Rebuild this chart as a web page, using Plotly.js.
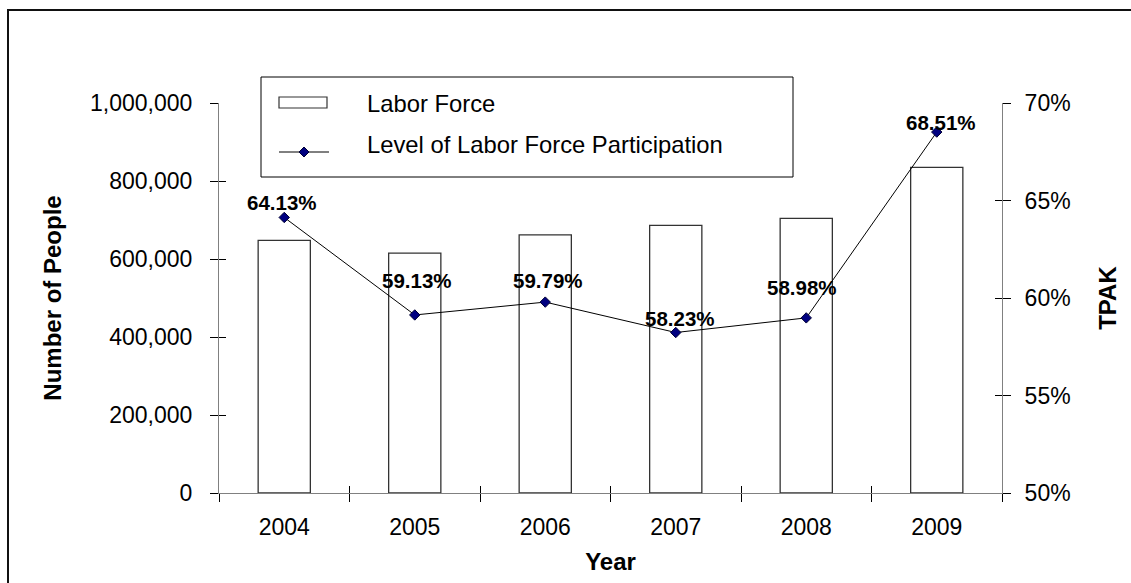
<!DOCTYPE html>
<html>
<head>
<meta charset="utf-8">
<script src="https://cdn.plot.ly/plotly-3.0.1.min.js"></script>
<style>
  html, body { margin: 0; padding: 0; background: #ffffff; overflow: hidden; }
  #wrap { position: relative; width: 1131px; height: 583px; }
  #chart { position: absolute; left: 0; top: 0; width: 1131px; height: 583px; }
  #frame { position: absolute; left: 7px; top: 9px; width: 1400px; height: 800px;
           border-left: 2px solid #111; border-top: 2px solid #111; pointer-events: none; }
</style>
</head>
<body>
<div id="wrap">
  <div id="chart"></div>
  <div id="frame"></div>
</div>
<script>
// Labor force by year and the participation rate (TPAK)
const years = ['2004', '2005', '2006', '2007', '2008', '2009'];
const laborForce = [648000, 615000, 662000, 686000, 704000, 835000];
const participation = [64.13, 59.13, 59.79, 58.23, 58.98, 68.51];

const barName = 'Labor Force';
const lineName = 'Level of Labor Force Participation';

// label offsets (px) above / beside each rate marker
const labelDy = [15, 34, 22, 14, 30, 10];
const labelDx = [-2, 2, 3, 4, -4, 4];

const FONT = 'Arial, "Liberation Sans", sans-serif';
const AXIS = '#808080';
const TICK_SIZE = 23, TITLE_SIZE = 24, LEGEND_SIZE = 23.8, LABEL_SIZE = 20.5;

const rateFrac = participation.map(v => v / 100);
const blank = years.map(() => null);

const traces = [
  {
    type: 'bar', name: barName, x: years, y: laborForce,
    marker: { color: '#ffffff', line: { color: '#333333', width: 1.3 } },
    width: 0.4, hoverinfo: 'x+y'
  },
  {
    type: 'scatter', mode: 'lines+markers', name: lineName,
    x: years, y: rateFrac, yaxis: 'y2',
    line: { color: '#000000', width: 1 },
    marker: { symbol: 'diamond', size: 8, color: '#000080', line: { color: '#000033', width: 1 } }
  },
  // empty carriers so the tick-only overlay axes get drawn
  { type: 'scatter', mode: 'lines', x: years, y: blank, xaxis: 'x2', yaxis: 'y3', hoverinfo: 'skip', showlegend: false },
  { type: 'scatter', mode: 'lines', x: years, y: blank, xaxis: 'x2', yaxis: 'y4', hoverinfo: 'skip', showlegend: false }
];

// Px -> paper helpers for the hand-built legend box
const L = 219, R = 129, T = 103, B = 90, W = 1131, H = 583;
const pw = W - L - R, ph = H - T - B;
const px = v => (v - L) / pw;
const py = v => (H - B - v) / ph;

// value labels: category axes take the category index as x
const annotations = years.map((yr, i) => ({
  x: i, y: rateFrac[i], xref: 'x', yref: 'y2',
  text: '<b>' + participation[i].toFixed(2) + '%</b>',
  showarrow: false, xanchor: 'center', yanchor: 'middle',
  yshift: labelDy[i], xshift: labelDx[i],
  font: { family: FONT, size: LABEL_SIZE, color: '#000000' }
}));

annotations.push(
  { xref: 'paper', yref: 'paper', x: px(365), y: py(103), xanchor: 'left', yanchor: 'middle',
    text: barName, showarrow: false, font: { family: FONT, size: LEGEND_SIZE, color: '#000' } },
  { xref: 'paper', yref: 'paper', x: px(365), y: py(145), xanchor: 'left', yanchor: 'middle',
    text: lineName, showarrow: false, font: { family: FONT, size: LEGEND_SIZE, color: '#000' } }
);

const dX = 5 / pw, dY = 5 / ph, cx = px(304), cy = py(152);
const shapes = [
  { type: 'rect', xref: 'paper', yref: 'paper', x0: px(261), x1: px(793), y0: py(77), y1: py(177),
    line: { color: '#000', width: 1 }, fillcolor: 'rgba(0,0,0,0)' },
  { type: 'rect', xref: 'paper', yref: 'paper', x0: px(279), x1: px(327), y0: py(97), y1: py(108),
    line: { color: '#333', width: 1.2 }, fillcolor: '#ffffff' },
  { type: 'line', xref: 'paper', yref: 'paper', x0: px(279), x1: px(329), y0: cy, y1: cy,
    line: { color: '#000', width: 1 } },
  { type: 'path', xref: 'paper', yref: 'paper',
    path: `M ${cx - dX} ${cy} L ${cx} ${cy + dY} L ${cx + dX} ${cy} L ${cx} ${cy - dY} Z`,
    fillcolor: '#000080', line: { color: '#000033', width: 1 } }
];

const tickFont = { family: FONT, size: TICK_SIZE, color: '#000' };
const titleFont = { family: FONT, size: TITLE_SIZE, color: '#000' };

// inside halves of the tick marks, so ticks cross their axis lines
const innerTicks = {
  ticks: 'inside', ticklen: 7, tickcolor: '#000', tickwidth: 1,
  showticklabels: false, showline: false, showgrid: false, zeroline: false, fixedrange: true
};

const layout = {
  width: W, height: H,
  margin: { l: L, r: R, t: T, b: B, pad: 0 },
  paper_bgcolor: '#ffffff', plot_bgcolor: '#ffffff',
  showlegend: false,
  font: { family: FONT, color: '#000000', size: TICK_SIZE },
  xaxis: {
    type: 'category', range: [-0.5, 5.5], tickson: 'boundaries',
    showline: true, linecolor: AXIS, linewidth: 1,
    ticks: 'outside', ticklen: 8, tickcolor: '#000', tickwidth: 1,
    ticklabelstandoff: 13, showgrid: false, zeroline: false,
    tickfont: tickFont,
    title: { text: '<b>Year</b>', standoff: 14, font: titleFont }
  },
  xaxis2: Object.assign({
    type: 'category', overlaying: 'x', side: 'bottom', anchor: 'y', range: [-0.5, 5.5],
    categoryorder: 'array', categoryarray: years, tickson: 'boundaries'
  }, innerTicks),
  yaxis: {
    range: [0, 1000000], dtick: 200000, tickformat: ',d',
    showline: true, linecolor: AXIS, linewidth: 1,
    ticks: 'outside', ticklen: 8, tickcolor: '#000', tickwidth: 1,
    ticklabelstandoff: 13, showgrid: false, zeroline: false,
    tickfont: tickFont,
    title: { text: '<b>Number of People</b>', standoff: 21, font: titleFont }
  },
  yaxis2: {
    overlaying: 'y', side: 'right', range: [0.5, 0.7], dtick: 0.05, tickformat: '.0%',
    showline: true, linecolor: AXIS, linewidth: 1,
    ticks: 'outside', ticklen: 8, tickcolor: '#000', tickwidth: 1,
    ticklabelstandoff: 9, showgrid: false, zeroline: false,
    tickfont: tickFont,
    title: { text: '<b>TPAK</b>', standoff: 29, font: titleFont }
  },
  yaxis3: Object.assign({ overlaying: 'y', side: 'left', anchor: 'x', range: [0, 1000000], dtick: 200000 }, innerTicks),
  yaxis4: Object.assign({ overlaying: 'y', side: 'right', anchor: 'x', range: [0.5, 0.7], dtick: 0.05 }, innerTicks),
  annotations: annotations,
  shapes: shapes
};

Plotly.newPlot('chart', traces, layout, { displayModeBar: false, staticPlot: true });
</script>
</body>
</html>
